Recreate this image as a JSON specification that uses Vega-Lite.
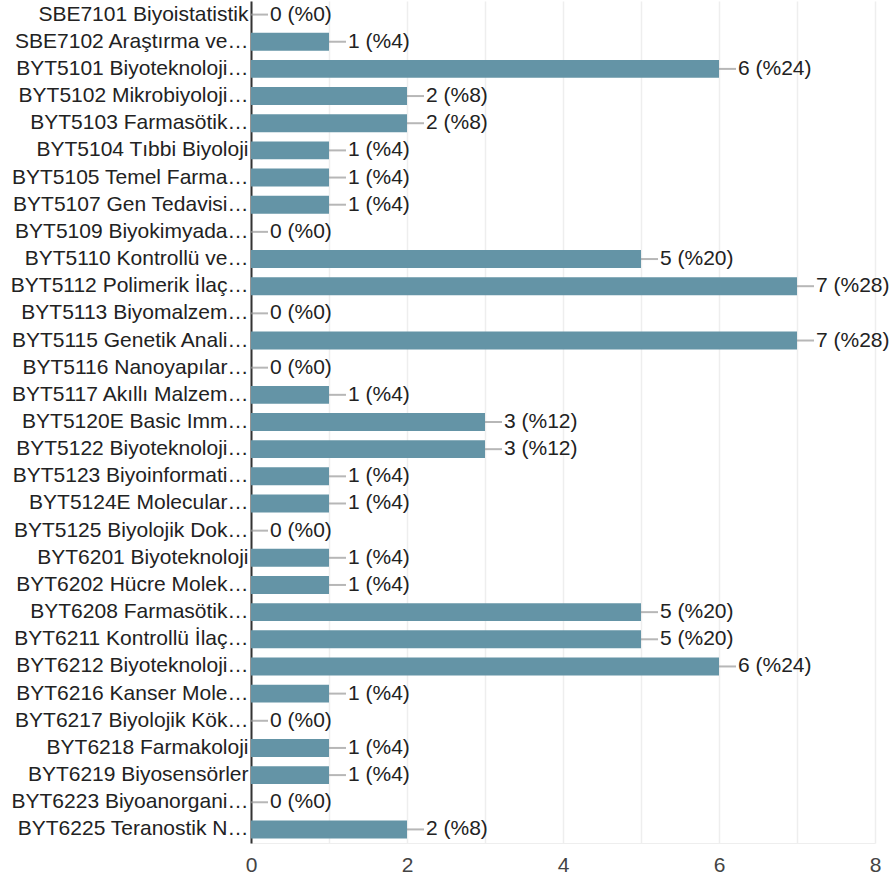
{
  "$schema": "https://vega.github.io/schema/vega-lite/v6.json",
  "width": 624,
  "height": 842,
  "autosize": {"type": "none"},
  "padding": {"left": 251, "top": 1, "right": 17, "bottom": 37},
  "background": "white",
  "config": {
    "view": {"stroke": null},
    "font": "Arial, Helvetica, sans-serif"
  },
  "data": {
    "values": [
      {"course": "SBE7101 Biyoistatistik", "count": 0, "label": "0 (%0)"},
      {"course": "SBE7102 Araştırma ve…", "count": 1, "label": "1 (%4)"},
      {"course": "BYT5101 Biyoteknoloji…", "count": 6, "label": "6 (%24)"},
      {"course": "BYT5102 Mikrobiyoloji…", "count": 2, "label": "2 (%8)"},
      {"course": "BYT5103 Farmasötik…", "count": 2, "label": "2 (%8)"},
      {"course": "BYT5104 Tıbbi Biyoloji", "count": 1, "label": "1 (%4)"},
      {"course": "BYT5105 Temel Farma…", "count": 1, "label": "1 (%4)"},
      {"course": "BYT5107 Gen Tedavisi…", "count": 1, "label": "1 (%4)"},
      {"course": "BYT5109 Biyokimyada…", "count": 0, "label": "0 (%0)"},
      {"course": "BYT5110 Kontrollü ve…", "count": 5, "label": "5 (%20)"},
      {"course": "BYT5112 Polimerik İlaç…", "count": 7, "label": "7 (%28)"},
      {"course": "BYT5113 Biyomalzem…", "count": 0, "label": "0 (%0)"},
      {"course": "BYT5115 Genetik Anali…", "count": 7, "label": "7 (%28)"},
      {"course": "BYT5116 Nanoyapılar…", "count": 0, "label": "0 (%0)"},
      {"course": "BYT5117 Akıllı Malzem…", "count": 1, "label": "1 (%4)"},
      {"course": "BYT5120E Basic Imm…", "count": 3, "label": "3 (%12)"},
      {"course": "BYT5122 Biyoteknoloji…", "count": 3, "label": "3 (%12)"},
      {"course": "BYT5123 Biyoinformati…", "count": 1, "label": "1 (%4)"},
      {"course": "BYT5124E Molecular…", "count": 1, "label": "1 (%4)"},
      {"course": "BYT5125 Biyolojik Dok…", "count": 0, "label": "0 (%0)"},
      {"course": "BYT6201 Biyoteknoloji", "count": 1, "label": "1 (%4)"},
      {"course": "BYT6202 Hücre Molek…", "count": 1, "label": "1 (%4)"},
      {"course": "BYT6208 Farmasötik…", "count": 5, "label": "5 (%20)"},
      {"course": "BYT6211 Kontrollü İlaç…", "count": 5, "label": "5 (%20)"},
      {"course": "BYT6212 Biyoteknoloji…", "count": 6, "label": "6 (%24)"},
      {"course": "BYT6216 Kanser Mole…", "count": 1, "label": "1 (%4)"},
      {"course": "BYT6217 Biyolojik Kök…", "count": 0, "label": "0 (%0)"},
      {"course": "BYT6218 Farmakoloji", "count": 1, "label": "1 (%4)"},
      {"course": "BYT6219 Biyosensörler", "count": 1, "label": "1 (%4)"},
      {"course": "BYT6223 Biyoanorgani…", "count": 0, "label": "0 (%0)"},
      {"course": "BYT6225 Teranostik N…", "count": 2, "label": "2 (%8)"}
    ]
  },
  "encoding": {
    "y": {
      "field": "course",
      "type": "nominal",
      "sort": null,
      "scale": {"paddingInner": 0.34, "paddingOuter": 0.17},
      "axis": {
        "title": null,
        "ticks": false,
        "domain": true,
        "domainColor": "#333333",
        "domainWidth": 2,
        "labelFontSize": 21,
        "labelColor": "#222222",
        "labelLimit": 400,
        "labelPadding": 3,
        "grid": false
      }
    },
    "x": {
      "field": "count",
      "type": "quantitative",
      "scale": {"domain": [0, 8], "nice": false},
      "axis": {
        "title": null,
        "values": [0, 1, 2, 3, 4, 5, 6, 7, 8],
        "labelExpr": "datum.value % 2 == 0 ? datum.label : ''",
        "labelFlush": false,
        "labelOverlap": false,
        "ticks": false,
        "domain": true,
        "domainColor": "#eeeeee",
        "grid": true,
        "gridColor": "#eeeeee",
        "gridWidth": 1.5,
        "labelFontSize": 21,
        "labelColor": "#444444",
        "labelPadding": 11
      }
    }
  },
  "layer": [
    {"mark": {"type": "bar", "color": "#6494a6"}},
    {
      "mark": {"type": "tick", "orient": "horizontal", "size": 17, "thickness": 2, "color": "#999999", "xOffset": 8.5}
    },
    {
      "mark": {"type": "text", "align": "left", "baseline": "middle", "dx": 19, "fontSize": 21, "color": "#222222"},
      "encoding": {"text": {"field": "label"}}
    }
  ]
}
